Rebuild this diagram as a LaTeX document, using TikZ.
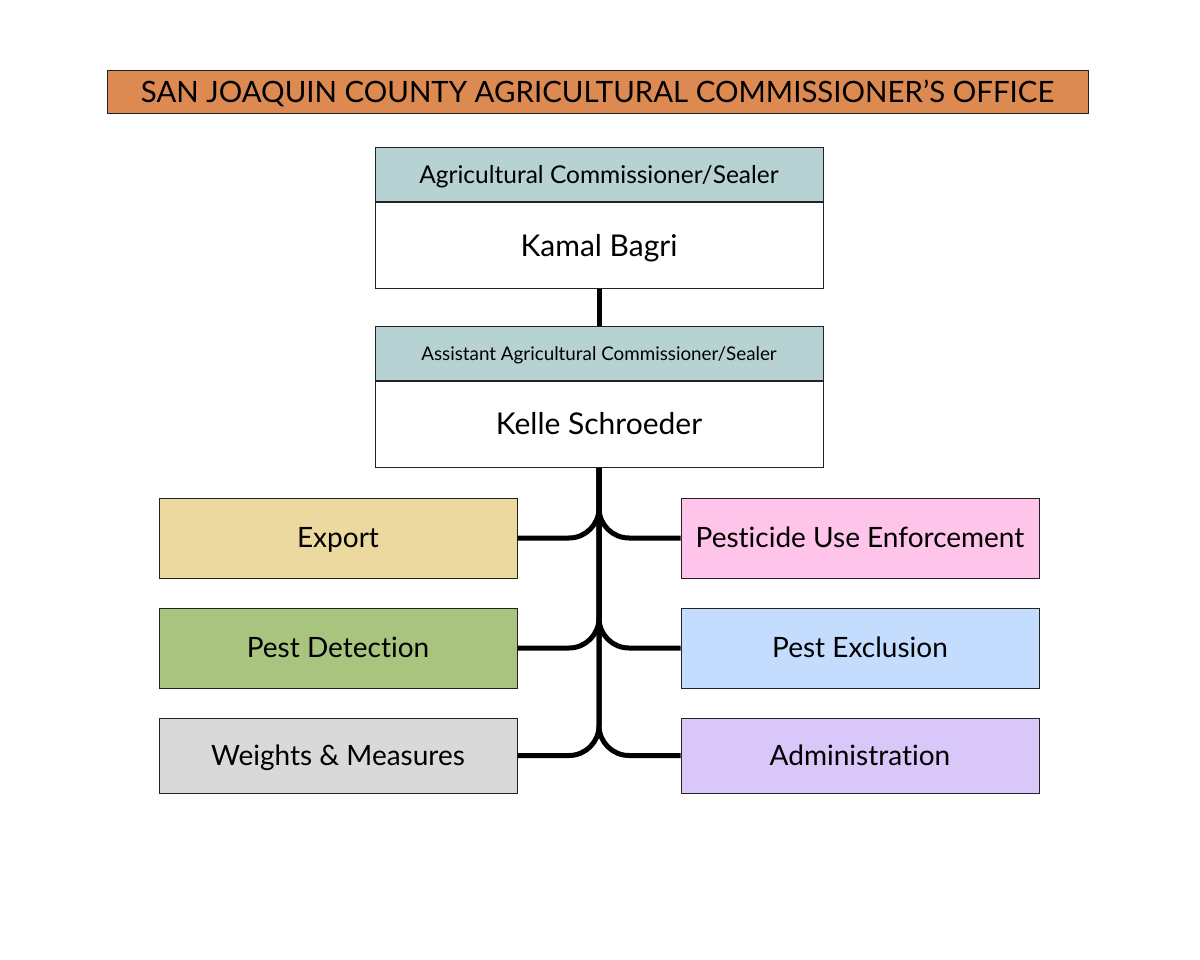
\documentclass[tikz,border=0pt]{standalone}
\usepackage{fontspec}
\setmainfont{Lato}[Ligatures={NoCommon,NoRare,NoDiscretionary}]
\definecolor{titleor}{HTML}{DC8A52}
\definecolor{headbl}{HTML}{B7D2D3}
\definecolor{expc}{HTML}{EBD9A0}
\definecolor{pdc}{HTML}{A9C47F}
\definecolor{wmc}{HTML}{D9D9D9}
\definecolor{puec}{HTML}{FEC4EA}
\definecolor{pec}{HTML}{C4DDFE}
\definecolor{admc}{HTML}{D9C7F9}
\definecolor{edge}{HTML}{222222}
\tikzset{
  box/.style={draw=edge, line width=1pt, inner sep=0pt, minimum width=358pt, minimum height=80pt, font=\fontsize{28}{32}\selectfont, text height=19pt, text depth=0pt},
  head/.style={draw=edge, line width=1pt, fill=headbl, inner sep=0pt, minimum width=448pt, minimum height=54pt, text depth=0pt},
  body/.style={draw=edge, line width=1pt, fill=white, inner sep=0pt, minimum width=448pt, minimum height=86pt, font=\fontsize{30}{34}\selectfont, text height=20.5pt, text depth=0pt},
  conn/.style={line width=5pt, rounded corners=30pt},
}
\begin{document}
\begin{tikzpicture}[x=1pt,y=-1pt]
\useasboundingbox[fill=white] (0,0) rectangle (1200,960);
\node[draw=edge, line width=1pt, fill=titleor, inner sep=0pt, minimum width=981pt, minimum height=43pt, font=\fontsize{29.4}{34}\selectfont, text height=20pt, text depth=0pt] (title) at (597.5,92.5) {SAN JOAQUIN COUNTY AGRICULTURAL COMMISSIONER’S OFFICE};
\node[head, font=\fontsize{24.5}{28}\selectfont, text height=16.5pt] (h1) at (599,175) {Agricultural Commissioner/Sealer};
\node[body, anchor=north] (b1) at (h1.south) {Kamal Bagri};
\node[head, font=\fontsize{18.8}{22}\selectfont, text height=13pt] (h2) at (599,353.5) {Assistant Agricultural Commissioner/Sealer};
\node[body, anchor=north] (b2) at (h2.south) {Kelle Schroeder};
\draw[line width=5pt] (b1.south) -- (h2.north);
\node[box, fill=expc] (exp) at (338,538) {Export};
\node[box, fill=pdc] (pd) at (338,648) {Pest Detection};
\node[box, fill=wmc, minimum height=75pt] (wm) at (338,755.5) {Weights \& Measures};
\node[box, fill=puec] (pue) at (860,538) {Pesticide Use Enforcement};
\node[box, fill=pec] (pe) at (860,648) {Pest Exclusion};
\node[box, fill=admc, minimum height=75pt] (adm) at (860,755.5) {Administration};
\foreach \n in {exp,pd,wm}{
  \draw[conn] (\n.east) -- (\n.east -| b2.south) -- (b2.south);
}
\foreach \n in {pue,pe,adm}{
  \draw[conn] (\n.west) -- (\n.west -| b2.south) -- (b2.south);
}
\end{tikzpicture}
\end{document}
